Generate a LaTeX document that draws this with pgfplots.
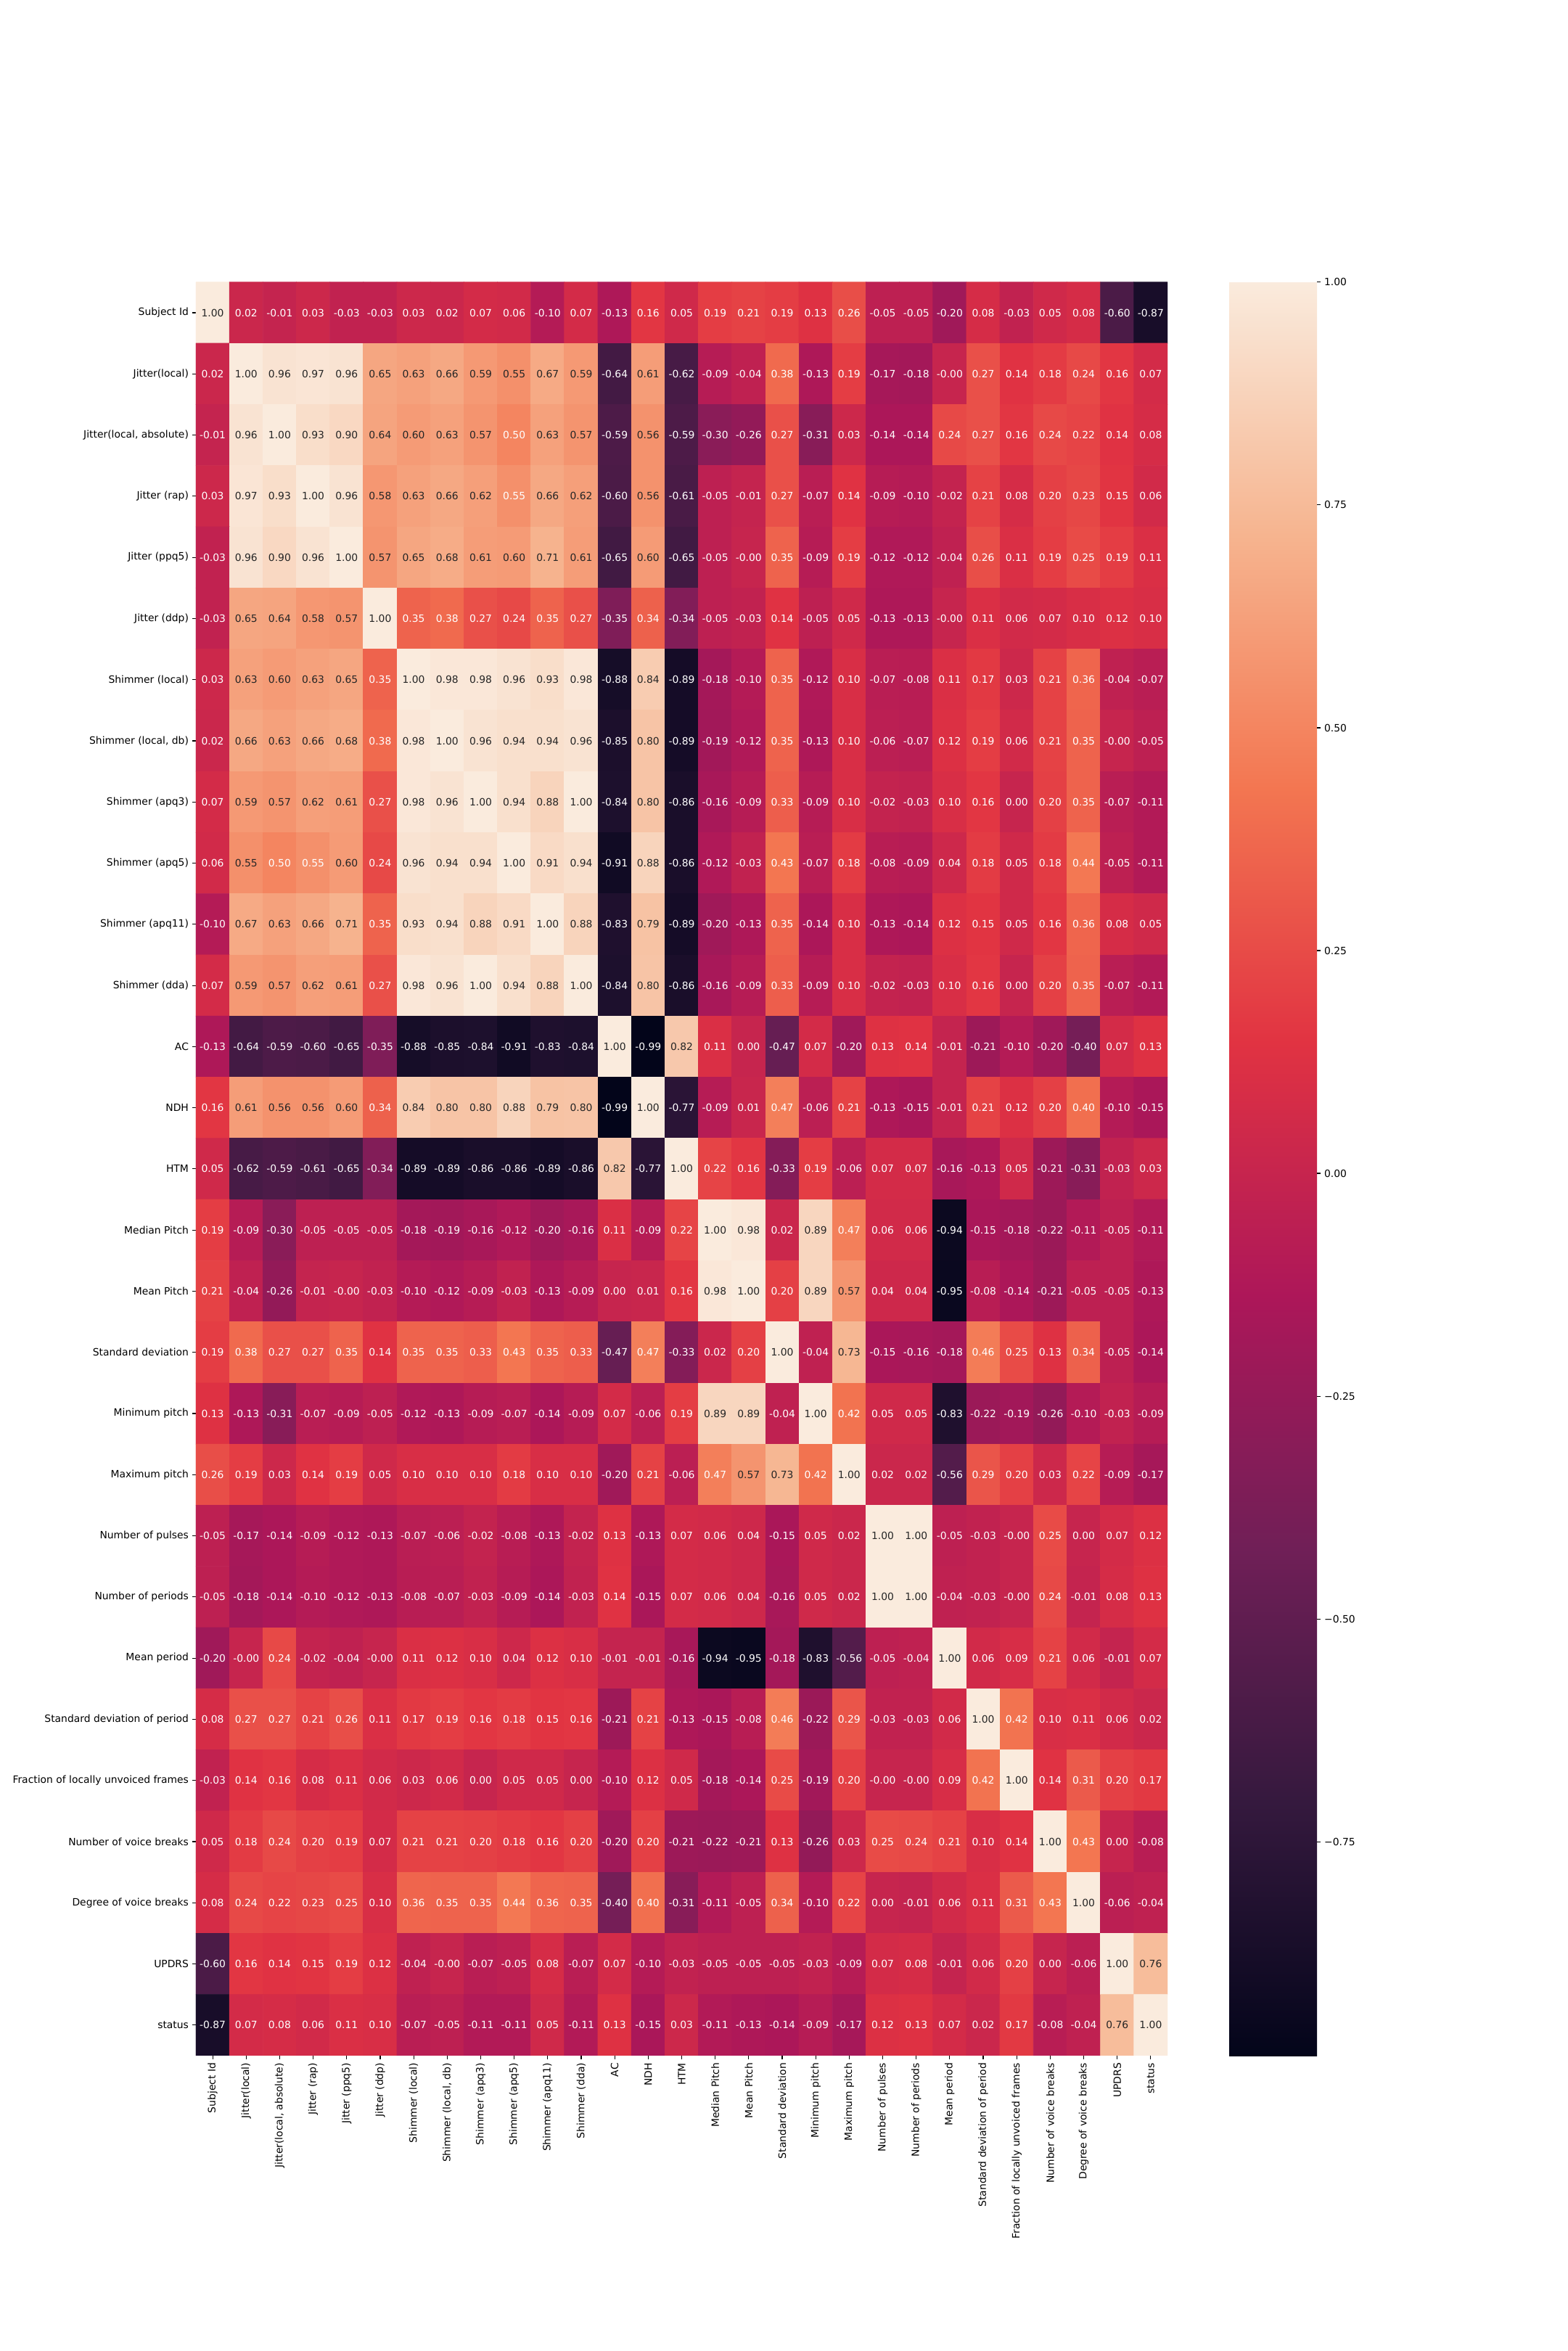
\documentclass[border=0pt]{standalone}
\usepackage{fontspec}
\setmainfont{DejaVu Sans}
\usepackage{pgfplots}
\pgfplotsset{compat=1.18}
\usepackage{pgfplotstable}
\definecolor{dk}{RGB}{38,38,38}
\newcommand\fs{\fontsize{6.94}{8.3}\selectfont}
\pgfplotstableread{
x y v f
0 28 1.00 1
1 28 0.02 0
2 28 -0.01 0
3 28 0.03 0
4 28 -0.03 0
5 28 -0.03 0
6 28 0.03 0
7 28 0.02 0
8 28 0.07 0
9 28 0.06 0
10 28 -0.10 0
11 28 0.07 0
12 28 -0.13 0
13 28 0.16 0
14 28 0.05 0
15 28 0.19 0
16 28 0.21 0
17 28 0.19 0
18 28 0.13 0
19 28 0.26 0
20 28 -0.05 0
21 28 -0.05 0
22 28 -0.20 0
23 28 0.08 0
24 28 -0.03 0
25 28 0.05 0
26 28 0.08 0
27 28 -0.60 0
28 28 -0.87 0
0 27 0.02 0
1 27 1.00 1
2 27 0.96 1
3 27 0.97 1
4 27 0.96 1
5 27 0.65 1
6 27 0.63 1
7 27 0.66 1
8 27 0.59 1
9 27 0.55 1
10 27 0.67 1
11 27 0.59 1
12 27 -0.64 0
13 27 0.61 1
14 27 -0.62 0
15 27 -0.09 0
16 27 -0.04 0
17 27 0.38 0
18 27 -0.13 0
19 27 0.19 0
20 27 -0.17 0
21 27 -0.18 0
22 27 -0.00 0
23 27 0.27 0
24 27 0.14 0
25 27 0.18 0
26 27 0.24 0
27 27 0.16 0
28 27 0.07 0
0 26 -0.01 0
1 26 0.96 1
2 26 1.00 1
3 26 0.93 1
4 26 0.90 1
5 26 0.64 1
6 26 0.60 1
7 26 0.63 1
8 26 0.57 1
9 26 0.50 0
10 26 0.63 1
11 26 0.57 1
12 26 -0.59 0
13 26 0.56 1
14 26 -0.59 0
15 26 -0.30 0
16 26 -0.26 0
17 26 0.27 0
18 26 -0.31 0
19 26 0.03 0
20 26 -0.14 0
21 26 -0.14 0
22 26 0.24 0
23 26 0.27 0
24 26 0.16 0
25 26 0.24 0
26 26 0.22 0
27 26 0.14 0
28 26 0.08 0
0 25 0.03 0
1 25 0.97 1
2 25 0.93 1
3 25 1.00 1
4 25 0.96 1
5 25 0.58 1
6 25 0.63 1
7 25 0.66 1
8 25 0.62 1
9 25 0.55 0
10 25 0.66 1
11 25 0.62 1
12 25 -0.60 0
13 25 0.56 1
14 25 -0.61 0
15 25 -0.05 0
16 25 -0.01 0
17 25 0.27 0
18 25 -0.07 0
19 25 0.14 0
20 25 -0.09 0
21 25 -0.10 0
22 25 -0.02 0
23 25 0.21 0
24 25 0.08 0
25 25 0.20 0
26 25 0.23 0
27 25 0.15 0
28 25 0.06 0
0 24 -0.03 0
1 24 0.96 1
2 24 0.90 1
3 24 0.96 1
4 24 1.00 1
5 24 0.57 1
6 24 0.65 1
7 24 0.68 1
8 24 0.61 1
9 24 0.60 1
10 24 0.71 1
11 24 0.61 1
12 24 -0.65 0
13 24 0.60 1
14 24 -0.65 0
15 24 -0.05 0
16 24 -0.00 0
17 24 0.35 0
18 24 -0.09 0
19 24 0.19 0
20 24 -0.12 0
21 24 -0.12 0
22 24 -0.04 0
23 24 0.26 0
24 24 0.11 0
25 24 0.19 0
26 24 0.25 0
27 24 0.19 0
28 24 0.11 0
0 23 -0.03 0
1 23 0.65 1
2 23 0.64 1
3 23 0.58 1
4 23 0.57 1
5 23 1.00 1
6 23 0.35 0
7 23 0.38 0
8 23 0.27 0
9 23 0.24 0
10 23 0.35 0
11 23 0.27 0
12 23 -0.35 0
13 23 0.34 0
14 23 -0.34 0
15 23 -0.05 0
16 23 -0.03 0
17 23 0.14 0
18 23 -0.05 0
19 23 0.05 0
20 23 -0.13 0
21 23 -0.13 0
22 23 -0.00 0
23 23 0.11 0
24 23 0.06 0
25 23 0.07 0
26 23 0.10 0
27 23 0.12 0
28 23 0.10 0
0 22 0.03 0
1 22 0.63 1
2 22 0.60 1
3 22 0.63 1
4 22 0.65 1
5 22 0.35 0
6 22 1.00 1
7 22 0.98 1
8 22 0.98 1
9 22 0.96 1
10 22 0.93 1
11 22 0.98 1
12 22 -0.88 0
13 22 0.84 1
14 22 -0.89 0
15 22 -0.18 0
16 22 -0.10 0
17 22 0.35 0
18 22 -0.12 0
19 22 0.10 0
20 22 -0.07 0
21 22 -0.08 0
22 22 0.11 0
23 22 0.17 0
24 22 0.03 0
25 22 0.21 0
26 22 0.36 0
27 22 -0.04 0
28 22 -0.07 0
0 21 0.02 0
1 21 0.66 1
2 21 0.63 1
3 21 0.66 1
4 21 0.68 1
5 21 0.38 0
6 21 0.98 1
7 21 1.00 1
8 21 0.96 1
9 21 0.94 1
10 21 0.94 1
11 21 0.96 1
12 21 -0.85 0
13 21 0.80 1
14 21 -0.89 0
15 21 -0.19 0
16 21 -0.12 0
17 21 0.35 0
18 21 -0.13 0
19 21 0.10 0
20 21 -0.06 0
21 21 -0.07 0
22 21 0.12 0
23 21 0.19 0
24 21 0.06 0
25 21 0.21 0
26 21 0.35 0
27 21 -0.00 0
28 21 -0.05 0
0 20 0.07 0
1 20 0.59 1
2 20 0.57 1
3 20 0.62 1
4 20 0.61 1
5 20 0.27 0
6 20 0.98 1
7 20 0.96 1
8 20 1.00 1
9 20 0.94 1
10 20 0.88 1
11 20 1.00 1
12 20 -0.84 0
13 20 0.80 1
14 20 -0.86 0
15 20 -0.16 0
16 20 -0.09 0
17 20 0.33 0
18 20 -0.09 0
19 20 0.10 0
20 20 -0.02 0
21 20 -0.03 0
22 20 0.10 0
23 20 0.16 0
24 20 0.00 0
25 20 0.20 0
26 20 0.35 0
27 20 -0.07 0
28 20 -0.11 0
0 19 0.06 0
1 19 0.55 1
2 19 0.50 0
3 19 0.55 0
4 19 0.60 1
5 19 0.24 0
6 19 0.96 1
7 19 0.94 1
8 19 0.94 1
9 19 1.00 1
10 19 0.91 1
11 19 0.94 1
12 19 -0.91 0
13 19 0.88 1
14 19 -0.86 0
15 19 -0.12 0
16 19 -0.03 0
17 19 0.43 0
18 19 -0.07 0
19 19 0.18 0
20 19 -0.08 0
21 19 -0.09 0
22 19 0.04 0
23 19 0.18 0
24 19 0.05 0
25 19 0.18 0
26 19 0.44 0
27 19 -0.05 0
28 19 -0.11 0
0 18 -0.10 0
1 18 0.67 1
2 18 0.63 1
3 18 0.66 1
4 18 0.71 1
5 18 0.35 0
6 18 0.93 1
7 18 0.94 1
8 18 0.88 1
9 18 0.91 1
10 18 1.00 1
11 18 0.88 1
12 18 -0.83 0
13 18 0.79 1
14 18 -0.89 0
15 18 -0.20 0
16 18 -0.13 0
17 18 0.35 0
18 18 -0.14 0
19 18 0.10 0
20 18 -0.13 0
21 18 -0.14 0
22 18 0.12 0
23 18 0.15 0
24 18 0.05 0
25 18 0.16 0
26 18 0.36 0
27 18 0.08 0
28 18 0.05 0
0 17 0.07 0
1 17 0.59 1
2 17 0.57 1
3 17 0.62 1
4 17 0.61 1
5 17 0.27 0
6 17 0.98 1
7 17 0.96 1
8 17 1.00 1
9 17 0.94 1
10 17 0.88 1
11 17 1.00 1
12 17 -0.84 0
13 17 0.80 1
14 17 -0.86 0
15 17 -0.16 0
16 17 -0.09 0
17 17 0.33 0
18 17 -0.09 0
19 17 0.10 0
20 17 -0.02 0
21 17 -0.03 0
22 17 0.10 0
23 17 0.16 0
24 17 0.00 0
25 17 0.20 0
26 17 0.35 0
27 17 -0.07 0
28 17 -0.11 0
0 16 -0.13 0
1 16 -0.64 0
2 16 -0.59 0
3 16 -0.60 0
4 16 -0.65 0
5 16 -0.35 0
6 16 -0.88 0
7 16 -0.85 0
8 16 -0.84 0
9 16 -0.91 0
10 16 -0.83 0
11 16 -0.84 0
12 16 1.00 1
13 16 -0.99 0
14 16 0.82 1
15 16 0.11 0
16 16 0.00 0
17 16 -0.47 0
18 16 0.07 0
19 16 -0.20 0
20 16 0.13 0
21 16 0.14 0
22 16 -0.01 0
23 16 -0.21 0
24 16 -0.10 0
25 16 -0.20 0
26 16 -0.40 0
27 16 0.07 0
28 16 0.13 0
0 15 0.16 0
1 15 0.61 1
2 15 0.56 1
3 15 0.56 1
4 15 0.60 1
5 15 0.34 0
6 15 0.84 1
7 15 0.80 1
8 15 0.80 1
9 15 0.88 1
10 15 0.79 1
11 15 0.80 1
12 15 -0.99 0
13 15 1.00 1
14 15 -0.77 0
15 15 -0.09 0
16 15 0.01 0
17 15 0.47 0
18 15 -0.06 0
19 15 0.21 0
20 15 -0.13 0
21 15 -0.15 0
22 15 -0.01 0
23 15 0.21 0
24 15 0.12 0
25 15 0.20 0
26 15 0.40 0
27 15 -0.10 0
28 15 -0.15 0
0 14 0.05 0
1 14 -0.62 0
2 14 -0.59 0
3 14 -0.61 0
4 14 -0.65 0
5 14 -0.34 0
6 14 -0.89 0
7 14 -0.89 0
8 14 -0.86 0
9 14 -0.86 0
10 14 -0.89 0
11 14 -0.86 0
12 14 0.82 1
13 14 -0.77 0
14 14 1.00 1
15 14 0.22 0
16 14 0.16 0
17 14 -0.33 0
18 14 0.19 0
19 14 -0.06 0
20 14 0.07 0
21 14 0.07 0
22 14 -0.16 0
23 14 -0.13 0
24 14 0.05 0
25 14 -0.21 0
26 14 -0.31 0
27 14 -0.03 0
28 14 0.03 0
0 13 0.19 0
1 13 -0.09 0
2 13 -0.30 0
3 13 -0.05 0
4 13 -0.05 0
5 13 -0.05 0
6 13 -0.18 0
7 13 -0.19 0
8 13 -0.16 0
9 13 -0.12 0
10 13 -0.20 0
11 13 -0.16 0
12 13 0.11 0
13 13 -0.09 0
14 13 0.22 0
15 13 1.00 1
16 13 0.98 1
17 13 0.02 0
18 13 0.89 1
19 13 0.47 0
20 13 0.06 0
21 13 0.06 0
22 13 -0.94 0
23 13 -0.15 0
24 13 -0.18 0
25 13 -0.22 0
26 13 -0.11 0
27 13 -0.05 0
28 13 -0.11 0
0 12 0.21 0
1 12 -0.04 0
2 12 -0.26 0
3 12 -0.01 0
4 12 -0.00 0
5 12 -0.03 0
6 12 -0.10 0
7 12 -0.12 0
8 12 -0.09 0
9 12 -0.03 0
10 12 -0.13 0
11 12 -0.09 0
12 12 0.00 0
13 12 0.01 0
14 12 0.16 0
15 12 0.98 1
16 12 1.00 1
17 12 0.20 0
18 12 0.89 1
19 12 0.57 1
20 12 0.04 0
21 12 0.04 0
22 12 -0.95 0
23 12 -0.08 0
24 12 -0.14 0
25 12 -0.21 0
26 12 -0.05 0
27 12 -0.05 0
28 12 -0.13 0
0 11 0.19 0
1 11 0.38 0
2 11 0.27 0
3 11 0.27 0
4 11 0.35 0
5 11 0.14 0
6 11 0.35 0
7 11 0.35 0
8 11 0.33 0
9 11 0.43 0
10 11 0.35 0
11 11 0.33 0
12 11 -0.47 0
13 11 0.47 0
14 11 -0.33 0
15 11 0.02 0
16 11 0.20 0
17 11 1.00 1
18 11 -0.04 0
19 11 0.73 1
20 11 -0.15 0
21 11 -0.16 0
22 11 -0.18 0
23 11 0.46 0
24 11 0.25 0
25 11 0.13 0
26 11 0.34 0
27 11 -0.05 0
28 11 -0.14 0
0 10 0.13 0
1 10 -0.13 0
2 10 -0.31 0
3 10 -0.07 0
4 10 -0.09 0
5 10 -0.05 0
6 10 -0.12 0
7 10 -0.13 0
8 10 -0.09 0
9 10 -0.07 0
10 10 -0.14 0
11 10 -0.09 0
12 10 0.07 0
13 10 -0.06 0
14 10 0.19 0
15 10 0.89 1
16 10 0.89 1
17 10 -0.04 0
18 10 1.00 1
19 10 0.42 0
20 10 0.05 0
21 10 0.05 0
22 10 -0.83 0
23 10 -0.22 0
24 10 -0.19 0
25 10 -0.26 0
26 10 -0.10 0
27 10 -0.03 0
28 10 -0.09 0
0 9 0.26 0
1 9 0.19 0
2 9 0.03 0
3 9 0.14 0
4 9 0.19 0
5 9 0.05 0
6 9 0.10 0
7 9 0.10 0
8 9 0.10 0
9 9 0.18 0
10 9 0.10 0
11 9 0.10 0
12 9 -0.20 0
13 9 0.21 0
14 9 -0.06 0
15 9 0.47 0
16 9 0.57 1
17 9 0.73 1
18 9 0.42 0
19 9 1.00 1
20 9 0.02 0
21 9 0.02 0
22 9 -0.56 0
23 9 0.29 0
24 9 0.20 0
25 9 0.03 0
26 9 0.22 0
27 9 -0.09 0
28 9 -0.17 0
0 8 -0.05 0
1 8 -0.17 0
2 8 -0.14 0
3 8 -0.09 0
4 8 -0.12 0
5 8 -0.13 0
6 8 -0.07 0
7 8 -0.06 0
8 8 -0.02 0
9 8 -0.08 0
10 8 -0.13 0
11 8 -0.02 0
12 8 0.13 0
13 8 -0.13 0
14 8 0.07 0
15 8 0.06 0
16 8 0.04 0
17 8 -0.15 0
18 8 0.05 0
19 8 0.02 0
20 8 1.00 1
21 8 1.00 1
22 8 -0.05 0
23 8 -0.03 0
24 8 -0.00 0
25 8 0.25 0
26 8 0.00 0
27 8 0.07 0
28 8 0.12 0
0 7 -0.05 0
1 7 -0.18 0
2 7 -0.14 0
3 7 -0.10 0
4 7 -0.12 0
5 7 -0.13 0
6 7 -0.08 0
7 7 -0.07 0
8 7 -0.03 0
9 7 -0.09 0
10 7 -0.14 0
11 7 -0.03 0
12 7 0.14 0
13 7 -0.15 0
14 7 0.07 0
15 7 0.06 0
16 7 0.04 0
17 7 -0.16 0
18 7 0.05 0
19 7 0.02 0
20 7 1.00 1
21 7 1.00 1
22 7 -0.04 0
23 7 -0.03 0
24 7 -0.00 0
25 7 0.24 0
26 7 -0.01 0
27 7 0.08 0
28 7 0.13 0
0 6 -0.20 0
1 6 -0.00 0
2 6 0.24 0
3 6 -0.02 0
4 6 -0.04 0
5 6 -0.00 0
6 6 0.11 0
7 6 0.12 0
8 6 0.10 0
9 6 0.04 0
10 6 0.12 0
11 6 0.10 0
12 6 -0.01 0
13 6 -0.01 0
14 6 -0.16 0
15 6 -0.94 0
16 6 -0.95 0
17 6 -0.18 0
18 6 -0.83 0
19 6 -0.56 0
20 6 -0.05 0
21 6 -0.04 0
22 6 1.00 1
23 6 0.06 0
24 6 0.09 0
25 6 0.21 0
26 6 0.06 0
27 6 -0.01 0
28 6 0.07 0
0 5 0.08 0
1 5 0.27 0
2 5 0.27 0
3 5 0.21 0
4 5 0.26 0
5 5 0.11 0
6 5 0.17 0
7 5 0.19 0
8 5 0.16 0
9 5 0.18 0
10 5 0.15 0
11 5 0.16 0
12 5 -0.21 0
13 5 0.21 0
14 5 -0.13 0
15 5 -0.15 0
16 5 -0.08 0
17 5 0.46 0
18 5 -0.22 0
19 5 0.29 0
20 5 -0.03 0
21 5 -0.03 0
22 5 0.06 0
23 5 1.00 1
24 5 0.42 0
25 5 0.10 0
26 5 0.11 0
27 5 0.06 0
28 5 0.02 0
0 4 -0.03 0
1 4 0.14 0
2 4 0.16 0
3 4 0.08 0
4 4 0.11 0
5 4 0.06 0
6 4 0.03 0
7 4 0.06 0
8 4 0.00 0
9 4 0.05 0
10 4 0.05 0
11 4 0.00 0
12 4 -0.10 0
13 4 0.12 0
14 4 0.05 0
15 4 -0.18 0
16 4 -0.14 0
17 4 0.25 0
18 4 -0.19 0
19 4 0.20 0
20 4 -0.00 0
21 4 -0.00 0
22 4 0.09 0
23 4 0.42 0
24 4 1.00 1
25 4 0.14 0
26 4 0.31 0
27 4 0.20 0
28 4 0.17 0
0 3 0.05 0
1 3 0.18 0
2 3 0.24 0
3 3 0.20 0
4 3 0.19 0
5 3 0.07 0
6 3 0.21 0
7 3 0.21 0
8 3 0.20 0
9 3 0.18 0
10 3 0.16 0
11 3 0.20 0
12 3 -0.20 0
13 3 0.20 0
14 3 -0.21 0
15 3 -0.22 0
16 3 -0.21 0
17 3 0.13 0
18 3 -0.26 0
19 3 0.03 0
20 3 0.25 0
21 3 0.24 0
22 3 0.21 0
23 3 0.10 0
24 3 0.14 0
25 3 1.00 1
26 3 0.43 0
27 3 0.00 0
28 3 -0.08 0
0 2 0.08 0
1 2 0.24 0
2 2 0.22 0
3 2 0.23 0
4 2 0.25 0
5 2 0.10 0
6 2 0.36 0
7 2 0.35 0
8 2 0.35 0
9 2 0.44 0
10 2 0.36 0
11 2 0.35 0
12 2 -0.40 0
13 2 0.40 0
14 2 -0.31 0
15 2 -0.11 0
16 2 -0.05 0
17 2 0.34 0
18 2 -0.10 0
19 2 0.22 0
20 2 0.00 0
21 2 -0.01 0
22 2 0.06 0
23 2 0.11 0
24 2 0.31 0
25 2 0.43 0
26 2 1.00 1
27 2 -0.06 0
28 2 -0.04 0
0 1 -0.60 0
1 1 0.16 0
2 1 0.14 0
3 1 0.15 0
4 1 0.19 0
5 1 0.12 0
6 1 -0.04 0
7 1 -0.00 0
8 1 -0.07 0
9 1 -0.05 0
10 1 0.08 0
11 1 -0.07 0
12 1 0.07 0
13 1 -0.10 0
14 1 -0.03 0
15 1 -0.05 0
16 1 -0.05 0
17 1 -0.05 0
18 1 -0.03 0
19 1 -0.09 0
20 1 0.07 0
21 1 0.08 0
22 1 -0.01 0
23 1 0.06 0
24 1 0.20 0
25 1 0.00 0
26 1 -0.06 0
27 1 1.00 1
28 1 0.76 1
0 0 -0.87 0
1 0 0.07 0
2 0 0.08 0
3 0 0.06 0
4 0 0.11 0
5 0 0.10 0
6 0 -0.07 0
7 0 -0.05 0
8 0 -0.11 0
9 0 -0.11 0
10 0 0.05 0
11 0 -0.11 0
12 0 0.13 0
13 0 -0.15 0
14 0 0.03 0
15 0 -0.11 0
16 0 -0.13 0
17 0 -0.14 0
18 0 -0.09 0
19 0 -0.17 0
20 0 0.12 0
21 0 0.13 0
22 0 0.07 0
23 0 0.02 0
24 0 0.17 0
25 0 -0.08 0
26 0 -0.04 0
27 0 0.76 1
28 0 1.00 1
}\corr
\begin{document}
\begin{tikzpicture}
\path[use as bounding box] (0,0) rectangle (1080pt,1620pt);
\begin{axis}[
  at={(135pt,203.5pt)}, anchor=south west,
  scale only axis, width=669.5pt, height=1222.1pt,
  xmin=-0.5, xmax=28.5, ymin=-0.5, ymax=28.5,
  axis line style={draw=none},
  tick align=outside, xtick pos=bottom, ytick pos=left,
  major tick length=2.43pt,
  tick style={black, line width=0.56pt},
  xtick={0,...,28}, ytick={0,...,28},
  xticklabels={Subject Id, Jitter(local), {Jitter(local, absolute)}, Jitter (rap), Jitter (ppq5), Jitter (ddp), Shimmer (local), {Shimmer (local, db)}, Shimmer (apq3), Shimmer (apq5), Shimmer (apq11), Shimmer (dda), AC, NDH, HTM, Median Pitch, Mean Pitch, Standard deviation, Minimum pitch, Maximum pitch, Number of pulses, Number of periods, Mean period, Standard deviation of period, Fraction of locally unvoiced frames, Number of voice breaks, Degree of voice breaks, UPDRS, status},
  yticklabels={status, UPDRS, Degree of voice breaks, Number of voice breaks, Fraction of locally unvoiced frames, Standard deviation of period, Mean period, Number of periods, Number of pulses, Maximum pitch, Minimum pitch, Standard deviation, Mean Pitch, Median Pitch, HTM, NDH, AC, Shimmer (dda), Shimmer (apq11), Shimmer (apq5), Shimmer (apq3), {Shimmer (local, db)}, Shimmer (local), Jitter (ddp), Jitter (ppq5), Jitter (rap), {Jitter(local, absolute)}, Jitter(local), Subject Id},
  xticklabel style={rotate=90, anchor=east, font=\fs, inner sep=2.4pt},
  yticklabel style={font=\fs, inner sep=2.4pt},
  colormap={rocket}{rgb255=(3,5,26) rgb255=(53,25,62) rgb255=(112,31,87) rgb255=(173,23,89) rgb255=(225,51,66) rgb255=(243,118,81) rgb255=(246,180,143) rgb255=(250,235,221)},
  point meta min=-0.99, point meta max=1.0,
  colorbar,
  colorbar/width=60.5pt,
  colorbar style={
    at={(parent axis.north east)}, anchor=north west, xshift=34pt,
    scale only axis, width=60.5pt, height=1222.1pt,
    axis line style={draw=none},
    xtick=\empty,
    ytick={-0.75,-0.5,-0.25,0,0.25,0.5,0.75,1},
    yticklabels={−0.75,−0.50,−0.25,0.00,0.25,0.50,0.75,1.00},
    yticklabel style={font=\fs, inner sep=2.4pt},
    tick align=outside, ytick pos=right, yticklabel pos=right,
    major tick length=2.43pt,
    tick style={black, line width=0.56pt},
  },
]
\addplot[matrix plot*, mesh/cols=29, point meta=explicit] table[x=x, y=y, meta=v] {\corr};
\addplot[draw=none, mark=none, point meta=explicit symbolic,
  visualization depends on={\thisrow{f} \as \fl},
  nodes near coords={\ifdim\fl pt>0.5pt \color{dk}\else\color{white}\fi\pgfplotspointmeta},
  every node near coord/.append style={font=\fs, inner sep=0pt, anchor=center}]
  table[x=x, y=y, meta=v] {\corr};
\end{axis}
\end{tikzpicture}
\end{document}
